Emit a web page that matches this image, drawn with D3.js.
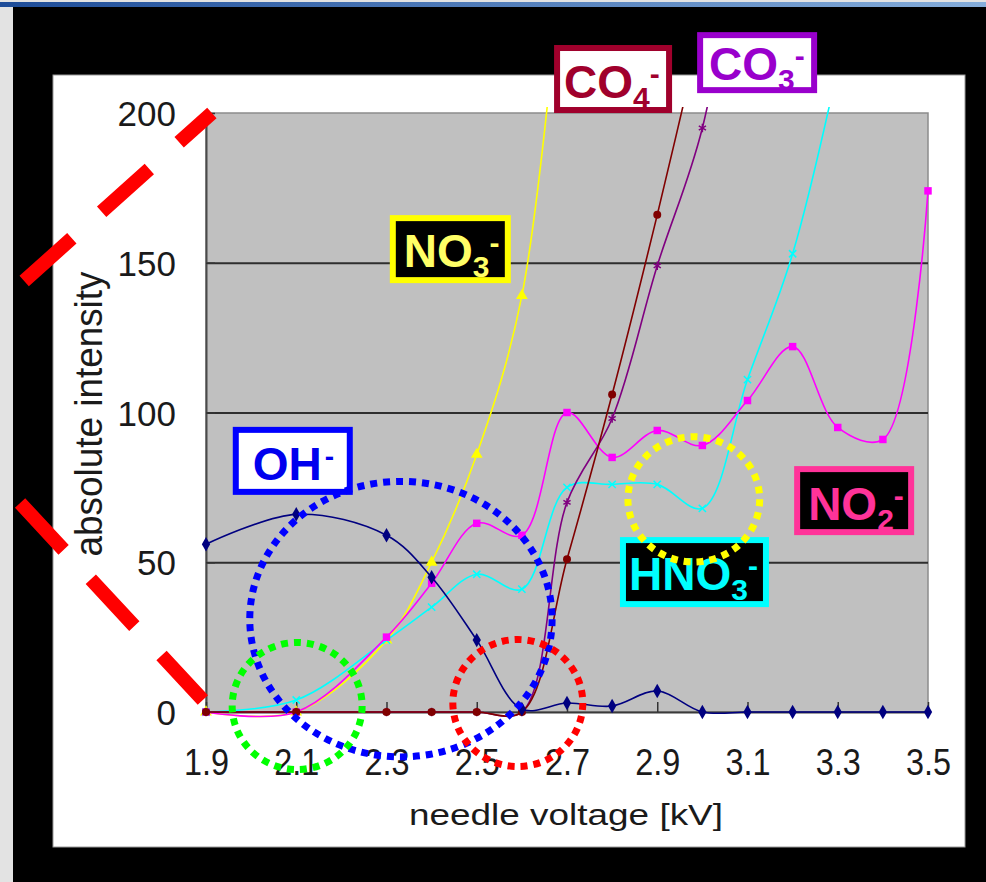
<!DOCTYPE html>
<html>
<head>
<meta charset="utf-8">
<script src="https://cdn.jsdelivr.net/npm/d3@7"></script>
<style>
    html, body { margin: 0; overflow: hidden; background: #e3e3e3; }
    svg { display: block; }
    text { font-family: "Liberation Sans", Arial, sans-serif; }
</style>
</head>
<body>
<div id="chart"></div>
<script>

/* * * * * * * * * * * * * *
*      needle ion chart     *
* * * * * * * * * * * * * */

// needle voltage [kV] and absolute intensity for each ion
let ohVolt = [1.9, 2.1, 2.3, 2.4, 2.5, 2.6, 2.7, 2.8, 2.9, 3.0, 3.1, 3.2, 3.3, 3.4, 3.5];
let ohVal = [56, 66, 59, 45, 24, 1, 3, 2, 7, 0, 0, 0, 0, 0, 0];

let no3Volt = [1.9, 2.1, 2.3, 2.4, 2.5, 2.6, 2.7];
let no3Val = [0, 0, 24, 50, 86, 139, 270];

let no2Volt = [1.9, 2.1, 2.3, 2.4, 2.5, 2.6, 2.7, 2.8, 2.9, 3.0, 3.1, 3.2, 3.3, 3.4, 3.5];
let no2Val = [0, 0, 25, 43, 63, 59, 100, 85, 94, 89, 104, 122, 95, 91, 174];

let hno3Volt = [1.9, 2.1, 2.3, 2.4, 2.5, 2.6, 2.7, 2.8, 2.9, 3.0, 3.1, 3.2, 3.3];
let hno3Val = [0, 4, 24, 35, 46, 41, 75, 76, 76, 68, 111, 153, 215];

let co4Volt = [1.9, 2.1, 2.3, 2.4, 2.5, 2.6, 2.7, 2.8, 2.9, 3.0];
let co4Val = [0, 0, 0, 0, 0, 0, 51, 106, 166, 230];

let co3Volt = [1.9, 2.1, 2.3, 2.4, 2.5, 2.6, 2.7, 2.8, 2.9, 3.0, 3.1];
let co3Val = [0, 0, 0, 0, 0, 0, 70, 98, 149, 195, 280];

// axis ticks
let xTicks = [1.9, 2.1, 2.3, 2.5, 2.7, 2.9, 3.1, 3.3, 3.5];
let yTicks = [0, 50, 100, 150, 200];

// ion label names (main part, subscript)
let ionNames = ["CO", "CO", "NO", "OH", "NO", "HNO"];
let ionSubs = ["4", "3", "3", "", "2", "3"];
// label anchors (voltage, intensity) of the top-left box corner
let labelVolt = [2.678, 2.995, 2.314, 1.966, 3.210, 2.824];
let labelVal = [221.7, 226.0, 164.9, 94.2, 81.1, 57.4];

// dotted circles: centre (voltage, intensity) and radii
let circleVolt = [2.332, 2.102, 2.591, 2.981];
let circleVal = [31, 2, 3, 71];
let circleRadVolt = [0.335, 0.144, 0.144, 0.146];
let circleRadVal = [46, 21.2, 21.2, 20.9];

// red dashed guide lines [voltage, intensity] start -> end
let guideFrom = [[1.497, 143.9], [1.488, 69.8]];
let guideTo = [[1.913, 200], [1.893, 4.0]];


class IonChart {

    constructor(parentElement) {
        this.parentElement = parentElement;

        this.series = [
            {name: "NO3", volt: no3Volt, val: no3Val, color: "#FFFF00", symbol: d3.symbolTriangle, size: 60, filled: true},
            {name: "HNO3", volt: hno3Volt, val: hno3Val, color: "#00FFFF", symbol: d3.symbolTimes, size: 36, filled: false},
            {name: "NO2", volt: no2Volt, val: no2Val, color: "#FF00FF", symbol: d3.symbolSquare, size: 56, filled: true},
            {name: "CO3", volt: co3Volt, val: co3Val, color: "#800080", symbol: d3.symbolAsterisk, size: 48, filled: false},
            {name: "CO4", volt: co4Volt, val: co4Val, color: "#800000", symbol: d3.symbolCircle, size: 50, filled: true},
            {name: "OH", volt: ohVolt, val: ohVal, color: "#000080", symbol: d3.symbolDiamond, size: 60, filled: true}
        ];

        // box styles in the same order as ionNames
        this.labelStyle = [
            {w: 112, h: 62, tx: 7, ty: 50, stroke: "#A0002C", fill: "#ffffff", text: "#A0002C"},
            {w: 114, h: 55, tx: 9, ty: 45, stroke: "#9900CC", fill: "#ffffff", text: "#9900CC"},
            {w: 115, h: 62, tx: 11, ty: 49, stroke: "#FFFF00", fill: "#000000", text: "#FFFF66"},
            {w: 114, h: 62, tx: 17, ty: 50, stroke: "#0000FF", fill: "#ffffff", text: "#0000EE"},
            {w: 114, h: 63, tx: 11, ty: 51, stroke: "#FF3399", fill: "#000000", text: "#FF3399"},
            {w: 143, h: 64, tx: 6, ty: 50, stroke: "#00FFFF", fill: "#000000", text: "#00FFFF"}
        ];
        this.circleColors = ["#0000FF", "#00FF00", "#FF0000", "#FFFF00"];

        this.initVis();
    }

    initVis() {
        let vis = this;

        vis.width = 986;
        vis.height = 882;
        vis.plot = {left: 206, top: 113, right: 928, bottom: 712};

        vis.svg = d3.select("#" + vis.parentElement).append("svg")
            .attr("width", vis.width)
            .attr("height", vis.height);

        // slide frame
        let grad = vis.svg.append("defs").append("linearGradient")
            .attr("id", "topBand");
        grad.append("stop").attr("offset", "0%").attr("stop-color", "#1d4c98");
        grad.append("stop").attr("offset", "100%").attr("stop-color", "#86aedb");

        vis.svg.append("rect")
            .attr("width", vis.width).attr("height", vis.height)
            .attr("fill", "#e3e3e3");
        vis.svg.append("rect")
            .attr("x", 0).attr("y", 2).attr("width", vis.width).attr("height", 5)
            .attr("fill", "url(#topBand)");
        vis.svg.append("rect")
            .attr("x", 13).attr("y", 7).attr("width", vis.width - 13).attr("height", vis.height - 7)
            .attr("fill", "#000");
        vis.svg.append("rect")
            .attr("x", 53).attr("y", 75).attr("width", 912).attr("height", 772)
            .attr("fill", "#fff")
            .attr("stroke", "#999").attr("stroke-width", 1);

        // scales
        vis.x = d3.scaleLinear()
            .domain([1.9, 3.5])
            .range([vis.plot.left, vis.plot.right]);
        vis.y = d3.scaleLinear()
            .domain([0, 200])
            .range([vis.plot.bottom, vis.plot.top]);

        // plot area
        vis.svg.append("rect")
            .attr("x", vis.plot.left).attr("y", vis.plot.top)
            .attr("width", vis.plot.right - vis.plot.left)
            .attr("height", vis.plot.bottom - vis.plot.top)
            .attr("fill", "#C0C0C0")
            .attr("stroke", "#8c8c8c").attr("stroke-width", 1.5);

        // gridlines
        vis.svg.append("g")
            .attr("class", "grid")
            .attr("transform", `translate(${vis.plot.left},0)`)
            .call(d3.axisLeft(vis.y).tickValues([50, 100, 150])
                .tickSize(-(vis.plot.right - vis.plot.left)).tickFormat(""))
            .call(g => g.select(".domain").remove())
            .selectAll("line")
            .attr("stroke", "#2e2e2e").attr("stroke-width", 2);

        // y axis
        vis.yAxis = vis.svg.append("g")
            .attr("transform", `translate(${vis.plot.left},0)`)
            .call(d3.axisLeft(vis.y).tickValues(yTicks).tickSize(-9).tickSizeOuter(0));
        vis.yAxis.select(".domain").attr("stroke", "#4a4a4a").attr("stroke-width", 2);
        vis.yAxis.selectAll("line").attr("stroke", "#333").attr("stroke-width", 1.5);
        vis.yAxis.selectAll("text")
            .attr("x", -30).attr("dy", "0.36em")
            .attr("fill", "#1a1a1a")
            .style("font-size", "35px");

        // x axis
        vis.xAxis = vis.svg.append("g")
            .attr("transform", `translate(0,${vis.plot.bottom})`)
            .call(d3.axisBottom(vis.x).tickValues(xTicks).tickSize(-10).tickSizeOuter(0)
                .tickFormat(d3.format(".1f")));
        vis.xAxis.select(".domain").attr("stroke", "#3a3a3a").attr("stroke-width", 2);
        vis.xAxis.selectAll("line").attr("stroke", "#333").attr("stroke-width", 1.5);
        vis.xAxis.selectAll("text")
            .attr("y", 63).attr("dy", 0)
            .attr("fill", "#1a1a1a")
            .attr("textLength", 45).attr("lengthAdjust", "spacingAndGlyphs")
            .style("font-size", "37px");

        // axis titles
        vis.svg.append("text")
            .attr("transform", "translate(102,414) rotate(-90)")
            .attr("text-anchor", "middle")
            .attr("textLength", 285).attr("lengthAdjust", "spacingAndGlyphs")
            .attr("fill", "#1a1a1a")
            .style("font-size", "38px")
            .text("absolute intensity");
        vis.svg.append("text")
            .attr("x", 566).attr("y", 825)
            .attr("text-anchor", "middle")
            .attr("textLength", 314).attr("lengthAdjust", "spacingAndGlyphs")
            .attr("fill", "#1a1a1a")
            .style("font-size", "29px")
            .text("needle voltage [kV]");

        // clip so that steep lines stop just above the plot
        vis.svg.append("clipPath").attr("id", "plotClip")
            .append("rect")
            .attr("x", vis.plot.left - 10).attr("y", vis.plot.top - 6)
            .attr("width", vis.plot.right - vis.plot.left + 20)
            .attr("height", vis.plot.bottom - vis.plot.top + 20);

        vis.lineGroup = vis.svg.append("g").attr("clip-path", "url(#plotClip)");
        vis.annoGroup = vis.svg.append("g");

        vis.updateVis();
    }

    updateVis() {
        let vis = this;

        let line = d3.line()
            .x(d => vis.x(d[0]))
            .y(d => vis.y(d[1]))
            .curve(d3.curveCatmullRom.alpha(0.5));

        vis.series.forEach(function(s) {
            let pts = s.volt.map((v, i) => [v, s.val[i]]);

            vis.lineGroup.append("path")
                .datum(pts)
                .attr("d", line)
                .attr("fill", "none")
                .attr("stroke", s.color)
                .attr("stroke-width", 1.6);

            let sym = d3.symbol().type(s.symbol).size(s.size);
            vis.lineGroup.selectAll(".m-" + s.name)
                .data(pts.filter(d => d[1] <= 200))
                .enter()
                .append("path")
                .attr("class", "m-" + s.name)
                .attr("d", sym)
                .attr("transform", d => `translate(${vis.x(d[0])},${vis.y(d[1])})`)
                .attr("fill", s.filled ? s.color : "none")
                .attr("stroke", s.color)
                .attr("stroke-width", s.filled ? 0 : 1.5);
        });

        // red dashed guides on the left
        vis.annoGroup.selectAll(".guide")
            .data(guideFrom)
            .enter()
            .append("line")
            .attr("class", "guide")
            .attr("x1", d => vis.x(d[0]))
            .attr("y1", d => vis.y(d[1]))
            .attr("x2", (d, i) => vis.x(guideTo[i][0]))
            .attr("y2", (d, i) => vis.y(guideTo[i][1]))
            .attr("stroke", "#FF0000")
            .attr("stroke-width", 14)
            .attr("stroke-dasharray", "64 40");

        // ion label boxes
        ionNames.forEach(function(name, i) {
            let st = vis.labelStyle[i];
            let bx = vis.x(labelVolt[i]);
            let by = vis.y(labelVal[i]);
            let g = vis.annoGroup.append("g")
                .attr("transform", `translate(${bx},${by})`);

            g.append("rect")
                .attr("width", st.w).attr("height", st.h)
                .attr("fill", st.fill)
                .attr("stroke", st.stroke)
                .attr("stroke-width", 6);

            let t = g.append("text")
                .attr("x", st.tx).attr("y", st.ty)
                .attr("fill", st.text)
                .style("font-weight", "bold")
                .style("font-size", "46px");
            t.append("tspan").text(name);
            if (ionSubs[i]) {
                t.append("tspan").attr("dy", 10).style("font-size", "30px").text(ionSubs[i]);
                t.append("tspan").attr("dy", -24).style("font-size", "30px").text("-");
            } else {
                t.append("tspan").attr("dy", -14).attr("dx", 3).style("font-size", "28px").text("-");
            }
        });

        // dotted circles
        vis.annoGroup.selectAll(".ring")
            .data(circleVolt)
            .enter()
            .append("ellipse")
            .attr("class", "ring")
            .attr("cx", d => vis.x(d))
            .attr("cy", (d, i) => vis.y(circleVal[i]))
            .attr("rx", (d, i) => vis.x(d + circleRadVolt[i]) - vis.x(d))
            .attr("ry", (d, i) => vis.y(0) - vis.y(circleRadVal[i]))
            .attr("fill", "none")
            .attr("stroke", (d, i) => vis.circleColors[i])
            .attr("stroke-width", 7)
            .attr("stroke-dasharray", "7 6");
    }
}

new IonChart("chart");

</script>
</body>
</html>
